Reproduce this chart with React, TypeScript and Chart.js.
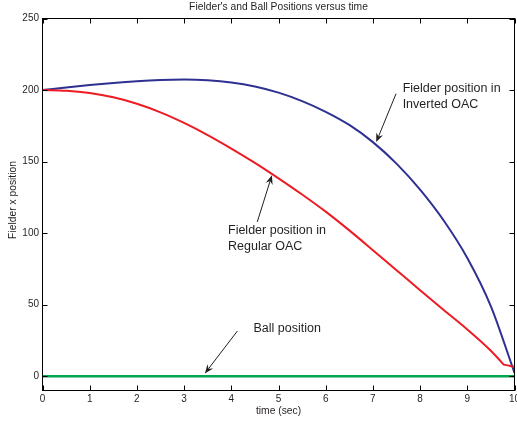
import React, { useEffect, useRef } from "react";
import { Chart, registerables } from "chart.js";

Chart.register(...registerables);

// ---- data ----
const blueTime = [0, 0.5, 1, 1.5, 2, 2.5, 3, 3.5, 4, 4.5, 5, 5.5, 6, 6.5, 7, 7.5, 8, 8.5, 9, 9.5, 10];
const invertedOAC = [200, 201.8, 203.5, 205.0, 206.2, 207.0, 207.3, 206.8, 205.3, 202.5, 198.2, 192.3, 184.8, 175.6, 163.6, 148.6, 130.4, 108.8, 82.6, 48.8, 2.3];

const redTime = [0, 0.5, 1, 1.5, 2, 2.5, 3, 3.5, 4, 4.5, 5, 5.5, 6, 6.5, 7, 7.5, 8, 8.5, 9, 9.5, 9.72, 9.77, 9.8, 10];
const regularOAC = [200, 199.5, 197.9, 194.9, 190.4, 184.4, 177.0, 168.5, 159.1, 149.1, 138.3, 127.0, 115.0, 101.9, 88.1, 74.1, 60.1, 46.3, 32.7, 17.8, 10.0, 8.2, 7.9, 6.5];

const ballTime = [0, 10];
const ballPosition = [0, 0];

const xTicks = [0, 1, 2, 3, 4, 5, 6, 7, 8, 9, 10];
const yTicks = [0, 50, 100, 150, 200, 250];
const xMin = 0;
const xMax = 10;
const yMin = -10;
const yMax = 250;

const titleText = "Fielder's and Ball Positions versus time";
const xTitleText = "time (sec)";
const yTitleText = "Fielder x position";

// annotations (data coordinates)
const annotationLines = [
  ["Fielder position in", "Inverted OAC"],
  ["Fielder position in", "Regular OAC"],
  ["Ball position"],
];
const annotationAt = [
  [7.63, 200.9],
  [3.93, 102],
  [4.47, 33.3],
];
const arrowFrom = [
  [7.49, 197.4],
  [4.55, 107.8],
  [4.13, 31.6],
];
const arrowTo = [
  [7.07, 163.6],
  [4.86, 140.4],
  [3.44, 1.9],
];

const FONT = 'Arial, "Liberation Sans", Helvetica, sans-serif';
const TEXT = "#231f20";

const toXY = (xs: number[], ys: number[]) => xs.map((x, i) => ({ x, y: ys[i] }));

const matlabFrame = {
  id: "matlabFrame",
  afterDatasetsDraw(chart: any) {
    const { ctx, chartArea: a, scales } = chart;
    const x = scales.x;
    const y = scales.y;
    ctx.save();
    // box
    ctx.strokeStyle = "#000";
    ctx.lineWidth = 1;
    ctx.strokeRect(a.left, a.top, a.right - a.left, a.bottom - a.top);
    // inward ticks
    const tl = 5;
    ctx.beginPath();
    for (const t of xTicks) {
      const px = Math.round(x.getPixelForValue(t)) + 0.5;
      ctx.moveTo(px, a.bottom);
      ctx.lineTo(px, a.bottom - tl);
      ctx.moveTo(px, a.top);
      ctx.lineTo(px, a.top + tl);
    }
    for (const t of yTicks) {
      const py = Math.round(y.getPixelForValue(t)) + 0.5;
      ctx.moveTo(a.left, py);
      ctx.lineTo(a.left + tl, py);
      ctx.moveTo(a.right, py);
      ctx.lineTo(a.right - tl, py);
    }
    ctx.stroke();

    // title
    ctx.fillStyle = TEXT;
    ctx.font = `10.3px ${FONT}`;
    ctx.textAlign = "center";
    ctx.textBaseline = "middle";
    ctx.fillText(titleText, (a.left + a.right) / 2, 7.5);
    // x title
    ctx.fillText(xTitleText, (a.left + a.right) / 2, 411);
    // y title
    ctx.save();
    ctx.translate(13.5, 200);
    ctx.rotate(-Math.PI / 2);
    ctx.fillText(yTitleText, 0, 0);
    ctx.restore();

    // annotations
    ctx.font = `12.5px ${FONT}`;
    ctx.textAlign = "left";
    annotationLines.forEach((lines, i) => {
      const px = x.getPixelForValue(annotationAt[i][0]);
      const py = y.getPixelForValue(annotationAt[i][1]);
      lines.forEach((ln, j) => ctx.fillText(ln, px, py + j * 16));
    });

    // arrows
    ctx.strokeStyle = TEXT;
    ctx.fillStyle = TEXT;
    ctx.lineWidth = 1;
    arrowFrom.forEach((f, i) => {
      const x0 = x.getPixelForValue(f[0]);
      const y0 = y.getPixelForValue(f[1]);
      const x1 = x.getPixelForValue(arrowTo[i][0]);
      const y1 = y.getPixelForValue(arrowTo[i][1]);
      const ang = Math.atan2(y1 - y0, x1 - x0);
      const L = 9;
      const W = 3.6;
      const notch = 6;
      ctx.beginPath();
      ctx.moveTo(x0, y0);
      ctx.lineTo(x1 - Math.cos(ang) * notch, y1 - Math.sin(ang) * notch);
      ctx.stroke();
      const bx = x1 - Math.cos(ang) * L;
      const by = y1 - Math.sin(ang) * L;
      const nx = -Math.sin(ang);
      const ny = Math.cos(ang);
      ctx.beginPath();
      ctx.moveTo(x1, y1);
      ctx.lineTo(bx + nx * W, by + ny * W);
      ctx.lineTo(x1 - Math.cos(ang) * notch, y1 - Math.sin(ang) * notch);
      ctx.lineTo(bx - nx * W, by - ny * W);
      ctx.closePath();
      ctx.fill();
    });
    ctx.restore();
  },
};

export default function App() {
  const ref = useRef<HTMLCanvasElement | null>(null);
  useEffect(() => {
    if (!ref.current) return;
    const chart = new Chart(ref.current, {
      type: "line",
      data: {
        datasets: [
          {
            label: "Ball position",
            data: toXY(ballTime, ballPosition),
            borderColor: "#00a651",
            borderWidth: 2.5,
            pointRadius: 0,
            tension: 0,
          },
          {
            label: "Fielder position in Regular OAC",
            data: toXY(redTime, regularOAC),
            borderColor: "#ed1c24",
            borderWidth: 2,
            pointRadius: 0,
            cubicInterpolationMode: "monotone",
          },
          {
            label: "Fielder position in Inverted OAC",
            data: toXY(blueTime, invertedOAC),
            borderColor: "#2e3192",
            borderWidth: 2,
            pointRadius: 0,
            cubicInterpolationMode: "monotone",
          },
        ],
      },
      options: {
        animation: false,
        responsive: false,
        layout: { padding: { top: 18.5, right: 2.5, left: 0, bottom: 0 } },
        plugins: { legend: { display: false }, title: { display: false }, tooltip: { enabled: false } },
        scales: {
          x: {
            type: "linear",
            min: xMin,
            max: xMax,
            afterBuildTicks: (s: any) => {
              s.ticks = xTicks.map((v) => ({ value: v }));
            },
            afterFit: (s: any) => {
              s.height = 30.5;
              s.paddingLeft = 0;
              s.paddingRight = 0;
            },
            grid: { display: false, drawTicks: false },
            border: { display: false },
            ticks: {
              autoSkip: false,
              maxRotation: 0,
              padding: 3,
              color: TEXT,
              font: { family: FONT, size: 10 },
            },
          },
          y: {
            type: "linear",
            min: yMin,
            max: yMax,
            afterBuildTicks: (s: any) => {
              s.ticks = yTicks.map((v) => ({ value: v }));
            },
            afterFit: (s: any) => {
              s.width = 42.5;
              s.paddingTop = 0;
              s.paddingBottom = 0;
            },
            grid: { display: false, drawTicks: false },
            border: { display: false },
            ticks: {
              autoSkip: false,
              padding: 3.5,
              color: TEXT,
              font: { family: FONT, size: 10 },
            },
          },
        },
      },
      plugins: [matlabFrame],
    } as any);
    return () => chart.destroy();
  }, []);
  return (
    <canvas
      ref={ref}
      width={517}
      height={421}
      style={{ position: "absolute", left: 0, top: 0, width: 517, height: 421, display: "block", background: "#fff" }}
    />
  );
}
